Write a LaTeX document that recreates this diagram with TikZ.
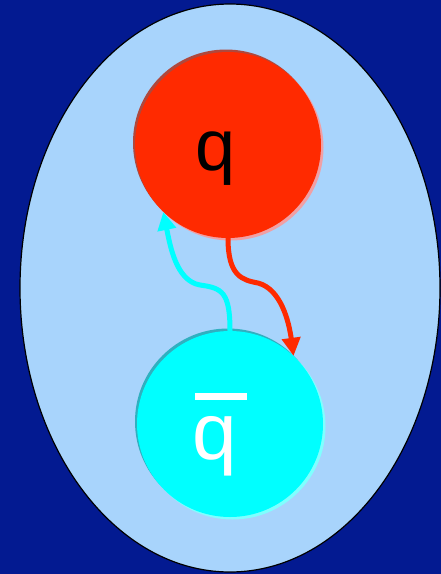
\documentclass[tikz,border=0pt]{standalone}
\usepackage{fontspec}
\setmainfont{Liberation Sans}
\usetikzlibrary{arrows.meta}
\definecolor{bgblue}{RGB}{3,26,145}
\definecolor{cellblue}{RGB}{168,212,252}
\definecolor{qred}{RGB}{255,42,0}
\definecolor{qreddark}{RGB}{176,72,60}
\definecolor{qredlight}{RGB}{240,160,165}
\definecolor{qcyan}{RGB}{0,255,255}
\definecolor{qcyandark}{RGB}{48,176,192}
\definecolor{qcyanlight}{RGB}{128,255,255}
\tikzset{
  ball/.style={circle, minimum size=186pt, inner sep=0pt},
  glue/.style={line width=5pt, -{Triangle[width=18pt,length=18pt]}},
  qlabel/.style={anchor=base, inner sep=0pt}
}
\begin{document}
\begin{tikzpicture}[x=1pt,y=-1pt]
\useasboundingbox (0,0) rectangle (441,574);
\fill[bgblue] (0,0) rectangle (441,574);
\draw[fill=cellblue, line width=1.2pt] (230,288) ellipse [x radius=210, y radius=284];
% shading edges
\fill[qreddark] (226,142.5) circle (93);
\fill[qredlight] (230.5,147.5) circle (93);
\node[ball, fill=qred] (q) at (228,145) {};
\fill[qcyandark] (228,421.5) circle (93);
\fill[qcyanlight] (232.5,426.5) circle (93);
\node[ball, fill=qcyan] (qbar) at (230,424) {};
% labels
\node[qlabel, font=\fontsize{72}{72}\selectfont] (ql) at (216,170) {q};
\node[qlabel, text=white, font=\fontsize{80}{80}\selectfont] (qbl) at (215,459) {q};
\fill[white] (195,393) rectangle (247,400);
% connectors
\draw[glue, qcyan] (qbar.north) .. controls (230,292) and (222,288) .. (200,285)
  .. controls (176,281) and (170,245) .. (q.226);
\draw[glue, qred] (q.south) .. controls (228,276) and (242,280) .. (258,283)
  .. controls (281,289) and (289,322) .. (qbar.47);
\end{tikzpicture}
\end{document}
